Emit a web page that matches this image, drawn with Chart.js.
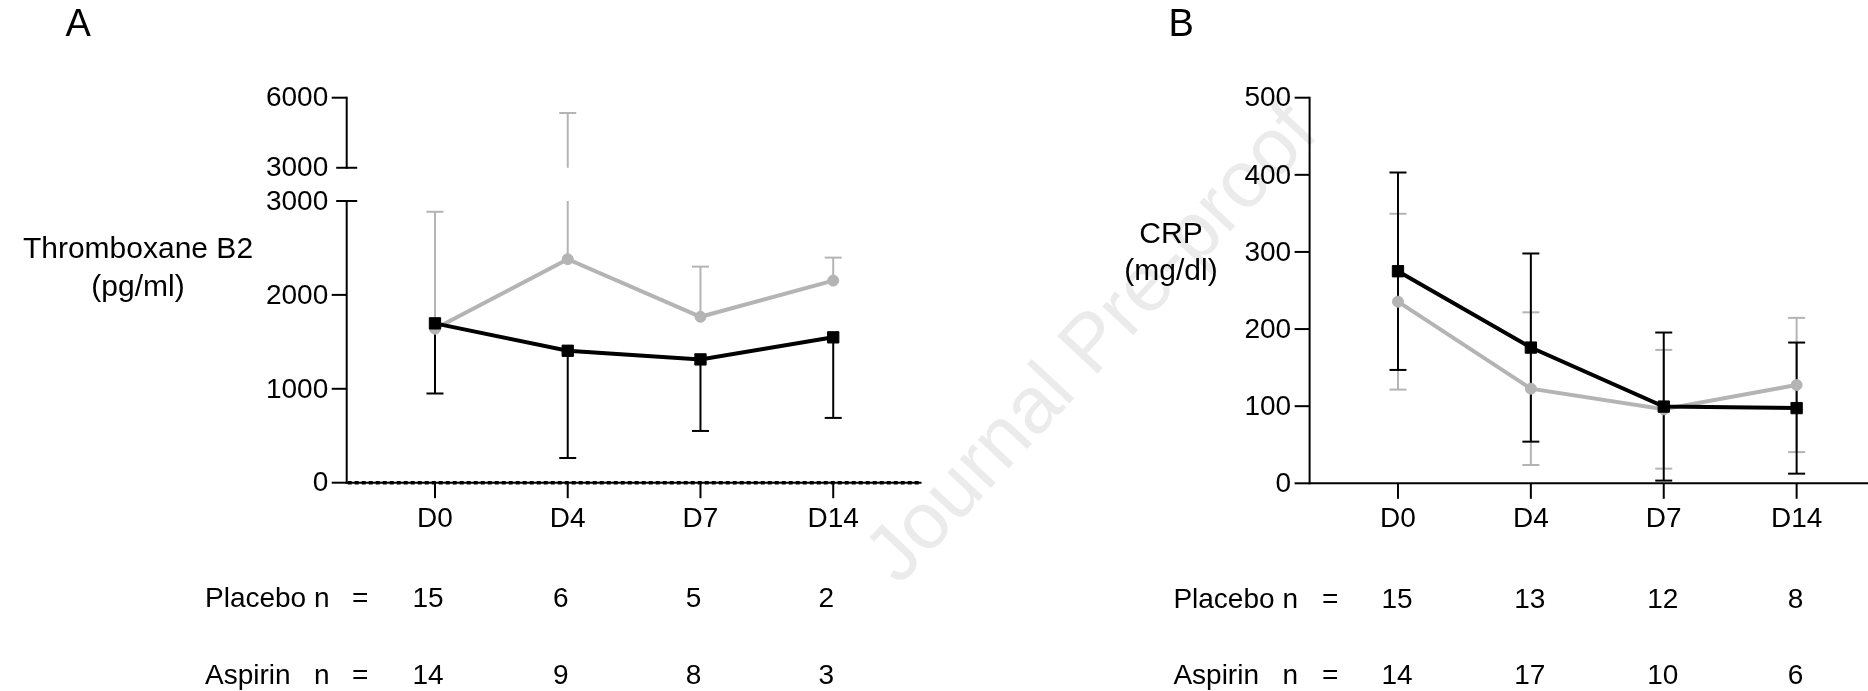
<!DOCTYPE html>
<html>
<head>
<meta charset="utf-8">
<script src="https://cdn.jsdelivr.net/npm/chart.js@4.4.1/dist/chart.umd.min.js"></script>
<style>
html, body { margin: 0; padding: 0; background: #fff; }
body { position: relative; width: 1868px; height: 691px; overflow: hidden; }
canvas { position: absolute; top: 0; }
#chartA { left: 0; }
#chartB { left: 934px; }
#wm {
    position: absolute; left: 1090px; top: 342px;
    font: 80px "Liberation Sans", Arial, sans-serif; color: #ebebeb;
    white-space: nowrap; transform: translate(-50%, -50%) rotate(-47deg);
}
</style>
</head>
<body>
<div id="wm">Journal Pre-proof</div>
<canvas id="chartA" width="934" height="691"></canvas>
<canvas id="chartB" width="960" height="691"></canvas>
<script>
const categories = ["D0", "D4", "D7", "D14"];

// A: Thromboxane B2 (pg/ml), mean and SD
const txbPlaceboMean = [1640, 2380, 1767, 2152];
const txbPlaceboSd = [1245, 2965, 534, 245];
const txbAspirinMean = [1697, 1405, 1313, 1548];
const txbAspirinSd = [747, 1142, 762, 858];
const txbTicksHigh = [3000, 6000];
const txbTicksLow = [0, 1000, 2000, 3000];
const txbPlaceboN = [15, 6, 5, 2];
const txbAspirinN = [14, 9, 8, 3];

// B: CRP (mg/dl), mean and SD
const crpPlaceboMean = [235.5, 122.7, 96, 127.5];
const crpPlaceboSd = [114, 99, 77, 87];
const crpAspirinMean = [275, 176, 99.5, 97.5];
const crpAspirinSd = [128, 122, 96, 85];
const crpTicks = [0, 100, 200, 300, 400, 500];
const crpPlaceboN = [15, 13, 12, 8];
const crpAspirinN = [14, 17, 10, 6];

const FONT = '"Liberation Sans", Arial, Helvetica, sans-serif';
const GRAY = "#b4b4b4";

// linear scale with a gap: [min, at] in the lower part, (at, max] in the upper part
class BrokenLinearScale extends Chart.LinearScale {
    lowerPixel(v) {
        const b = this.options.brk;
        const h = (this.bottom - this.top) * b.lowFrac;
        return this.bottom - (v - this.min) / (b.at - this.min) * h;
    }
    upperPixel(v) {
        const b = this.options.brk;
        const h = (this.bottom - this.top) * b.highFrac;
        return this.top + h - (v - b.at) / (this.max - b.at) * h;
    }
    getPixelForValue(v) {
        if (v === null || v === undefined || isNaN(v)) return NaN;
        return v <= this.options.brk.at ? this.lowerPixel(v) : this.upperPixel(v);
    }
    getValueForPixel(p) {
        const b = this.options.brk;
        const full = this.bottom - this.top;
        const lowTop = this.bottom - full * b.lowFrac;
        if (p >= lowTop) return this.min + (this.bottom - p) / (full * b.lowFrac) * (b.at - this.min);
        return b.at + (this.top + full * b.highFrac - p) / (full * b.highFrac) * (this.max - b.at);
    }
}
BrokenLinearScale.id = "brokenLinear";
Chart.register(BrokenLinearScale);

function points(vals) {
    return vals.map((v, i) => ({ x: i, y: v }));
}

function makeDatasets(pMean, pSd, pDir, aMean, aSd, aDir) {
    return [
        {
            label: "Placebo", data: points(pMean), errSd: pSd, errDir: pDir,
            borderColor: GRAY, backgroundColor: GRAY, borderWidth: 4,
            pointStyle: "circle", pointRadius: 5.5, pointBorderWidth: 1,
            pointBackgroundColor: GRAY, pointBorderColor: GRAY, order: 1
        },
        {
            label: "Aspirin", data: points(aMean), errSd: aSd, errDir: aDir,
            borderColor: "#000", backgroundColor: "#000", borderWidth: 4,
            pointStyle: "rect", pointRadius: 8, pointBorderWidth: 1,
            pointBackgroundColor: "#000", pointBorderColor: "#000", order: 0
        }
    ];
}

function text(ctx, s, x, y, size, align) {
    ctx.font = size + "px " + FONT;
    ctx.textAlign = align || "center";
    ctx.textBaseline = "alphabetic";
    ctx.fillText(s, x, y);
}

function vline(ctx, x, y1, y2) {
    ctx.beginPath();
    ctx.moveTo(x, y1);
    ctx.lineTo(x, y2);
    ctx.stroke();
}

function hline(ctx, x1, x2, y) {
    ctx.beginPath();
    ctx.moveTo(x1, y);
    ctx.lineTo(x2, y);
    ctx.stroke();
}

function makePanel(cfg) {
    return {
        id: "panel" + cfg.letter,
        beforeDatasetsDraw(chart) {
            const ctx = chart.ctx, xs = chart.scales.x, ys = chart.scales.y;
            const brk = ys.options.brk;
            const ax = chart.chartArea.left;
            const y0 = ys.getPixelForValue(0);
            ctx.save();
            ctx.strokeStyle = "#000";
            ctx.fillStyle = "#000";
            ctx.lineWidth = 2;

            // y axis, one piece per segment
            cfg.yPieces.forEach(piece => {
                const map = v => piece.upper ? ys.upperPixel(v) : ys.getPixelForValue(v);
                const t = piece.ticks;
                vline(ctx, ax, map(t[0]) + 1, map(t[t.length - 1]) - 1);
                t.forEach(v => {
                    const py = map(v);
                    if (brk && v === brk.at) hline(ctx, ax - 10.5, ax + 10.5, py);
                    else hline(ctx, ax - 15, ax, py);
                    ctx.font = "28px " + FONT;
                    ctx.textAlign = "right";
                    ctx.textBaseline = "middle";
                    ctx.fillText(String(v), ax - 18.5, py + 1);
                });
            });

            // x axis
            hline(ctx, ax - 1, chart.chartArea.right, y0);
            categories.forEach((c, i) => {
                vline(ctx, xs.getPixelForValue(i), y0, y0 + 15.5);
            });
            if (cfg.dottedZero) {
                ctx.save();
                ctx.lineWidth = 3.5;
                ctx.setLineDash([4, 3]);
                hline(ctx, ax + 1, chart.chartArea.right, y0);
                ctx.restore();
            }

            // error bars
            chart.data.datasets.forEach(ds => {
                ctx.strokeStyle = ds.borderColor;
                ctx.lineWidth = 2;
                ds.data.forEach((p, i) => {
                    const px = xs.getPixelForValue(p.x);
                    const sd = ds.errSd[i];
                    const ends = [];
                    if (ds.errDir !== "down") ends.push(p.y + sd);
                    if (ds.errDir !== "up") ends.push(p.y - sd);
                    ends.forEach(e => {
                        const lo = Math.min(p.y, e), hi = Math.max(p.y, e);
                        if (brk && lo < brk.at && hi > brk.at) {
                            vline(ctx, px, ys.lowerPixel(lo), ys.lowerPixel(brk.at));
                            vline(ctx, px, ys.upperPixel(brk.at), ys.upperPixel(hi));
                        } else {
                            vline(ctx, px, ys.getPixelForValue(lo), ys.getPixelForValue(hi));
                        }
                        hline(ctx, px - 8.5, px + 8.5, ys.getPixelForValue(e));
                    });
                });
            });
            ctx.restore();
        },
        afterDraw(chart) {
            const ctx = chart.ctx, xs = chart.scales.x, ys = chart.scales.y;
            const y0 = ys.getPixelForValue(0);
            ctx.save();
            ctx.fillStyle = "#000";
            text(ctx, cfg.letter, cfg.letterX, 36, 38, "left");
            text(ctx, cfg.title[0], cfg.titleX, cfg.titleY[0], 30);
            text(ctx, cfg.title[1], cfg.titleX, cfg.titleY[1], 30);
            categories.forEach((c, i) => text(ctx, c, xs.getPixelForValue(i), y0 + 44, 28));
            cfg.rows.forEach(row => {
                text(ctx, row.label, cfg.tableX[0], row.y, 28, "left");
                text(ctx, "n", cfg.tableX[1], row.y, 28, "left");
                text(ctx, "=", cfg.tableX[2], row.y, 28, "left");
                row.n.forEach((n, i) => text(ctx, String(n), xs.getPixelForValue(i) + cfg.nShift, row.y, 28));
            });
            ctx.restore();
        }
    };
}

function makeChart(id, datasets, yScale, padding, panel) {
    return new Chart(document.getElementById(id), {
        type: "line",
        data: { datasets: datasets },
        options: {
            responsive: false,
            animation: false,
            layout: { padding: padding },
            plugins: { legend: { display: false }, tooltip: { enabled: false } },
            elements: { line: { tension: 0 } },
            scales: {
                x: { type: "linear", min: -0.665, max: 3.665, display: false },
                y: yScale
            }
        },
        plugins: [panel]
    });
}

makeChart("chartA",
    makeDatasets(txbPlaceboMean, txbPlaceboSd, "up", txbAspirinMean, txbAspirinSd, "down"),
    { type: "brokenLinear", min: 0, max: 6000, display: false,
      brk: { at: 3000, lowFrac: 0.7317, highFrac: 0.1820 } },
    { left: 346.7, right: 12.5, top: 97.7, bottom: 208.3 },
    makePanel({
        letter: "A", letterX: 65.5,
        title: ["Thromboxane B2", "(pg/ml)"], titleX: 138, titleY: [258.3, 296],
        yPieces: [{ ticks: txbTicksHigh, upper: true }, { ticks: txbTicksLow }],
        dottedZero: true,
        tableX: [205, 314, 352], nShift: -7,
        rows: [{ label: "Placebo", n: txbPlaceboN, y: 607 },
               { label: "Aspirin", n: txbAspirinN, y: 683.5 }]
    }));

makeChart("chartB",
    makeDatasets(crpPlaceboMean, crpPlaceboSd, "both", crpAspirinMean, crpAspirinSd, "both"),
    { type: "linear", min: 0, max: 500, display: false },
    { left: 375.6, right: 8.6, top: 97.7, bottom: 207.7 },
    makePanel({
        letter: "B", letterX: 234.5,
        title: ["CRP", "(mg/dl)"], titleX: 237, titleY: [243.3, 280.3],
        yPieces: [{ ticks: crpTicks }],
        dottedZero: false,
        tableX: [239.4, 348.4, 388], nShift: -1,
        rows: [{ label: "Placebo", n: crpPlaceboN, y: 608 },
               { label: "Aspirin", n: crpAspirinN, y: 684 }]
    }));
</script>
</body>
</html>
